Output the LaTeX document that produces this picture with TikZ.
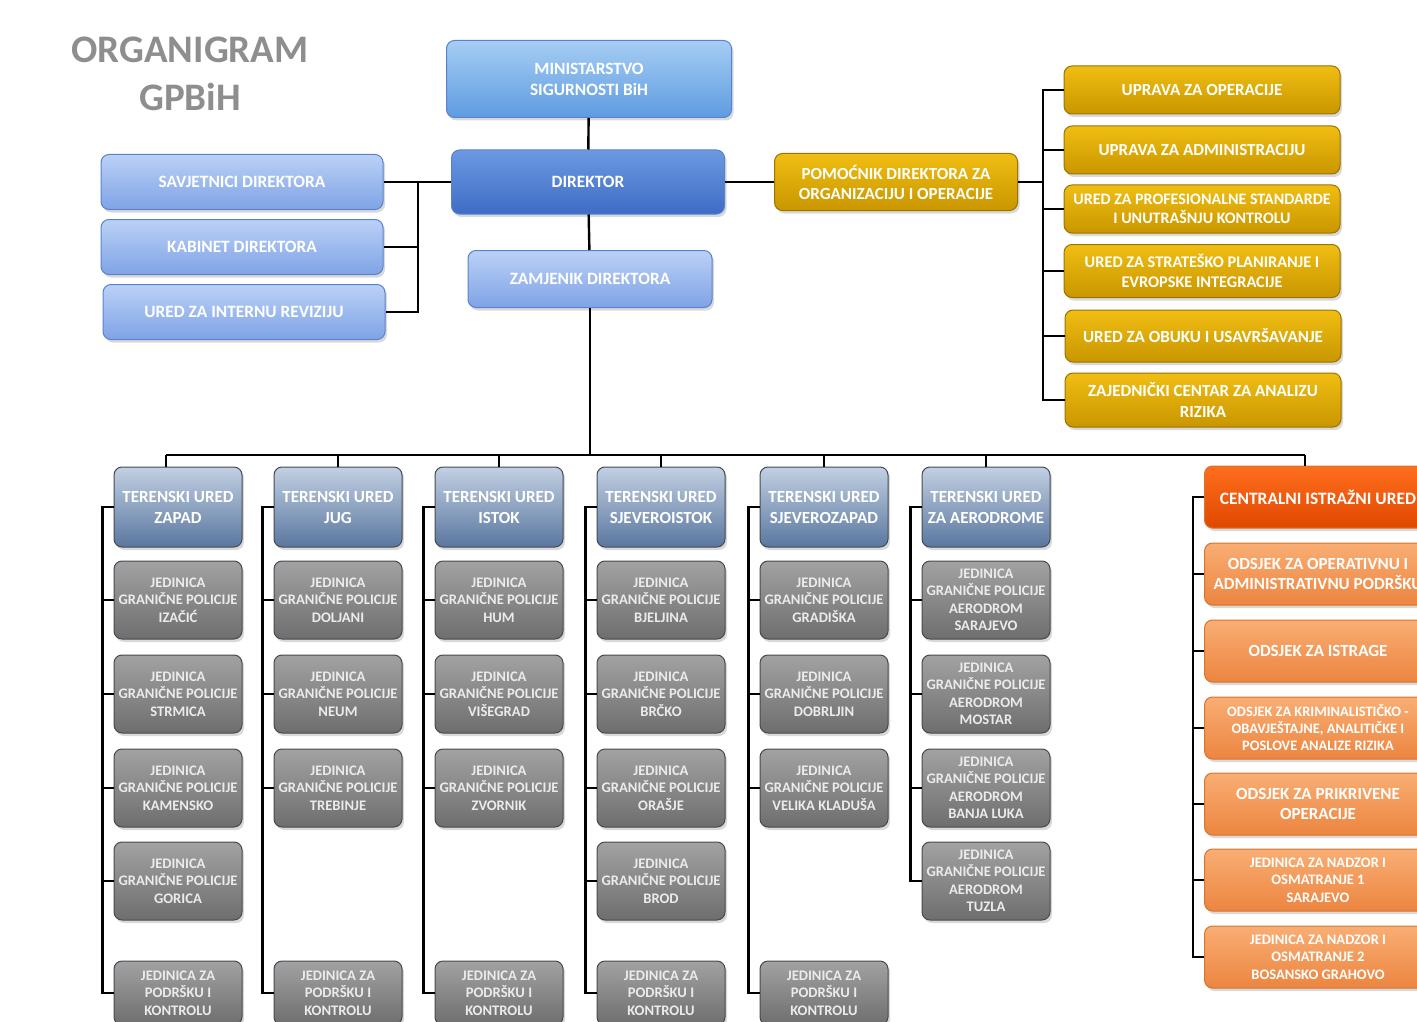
\documentclass[tikz,border=0pt]{standalone}
\usepackage{fontspec}
\setmainfont{Carlito}
\usetikzlibrary{positioning, shadows}
\definecolor{minTop}{HTML}{A6CDF4}
\definecolor{minBot}{HTML}{5E9CE0}
\definecolor{dirTop}{HTML}{6C99E2}
\definecolor{dirBot}{HTML}{3E6CC6}
\definecolor{ltTop}{HTML}{BBD1F6}
\definecolor{ltBot}{HTML}{7FA3E6}
\definecolor{blueLine}{HTML}{5A82CC}
\definecolor{goldTop}{HTML}{F0BE12}
\definecolor{goldBot}{HTML}{C99600}
\definecolor{goldLine}{HTML}{9A7400}
\definecolor{terTop}{HTML}{C2D0E3}
\definecolor{terBot}{HTML}{5A779F}
\definecolor{grayTop}{HTML}{A2A2A2}
\definecolor{grayBot}{HTML}{6E6E6E}
\definecolor{darkLine}{HTML}{454A52}
\definecolor{ciuTop}{HTML}{FF6E1E}
\definecolor{ciuBot}{HTML}{E04800}
\definecolor{orTop}{HTML}{F9AE74}
\definecolor{orBot}{HTML}{EC8540}
\definecolor{orLine}{HTML}{D7742F}
\definecolor{titleGray}{HTML}{8E8E8E}
\tikzset{
    %Define base style for boxes
    unit/.style={
           rectangle,
           rounded corners=8pt,
           line width=1pt,
           align=center,
           inner sep=2pt,
           text=white,
           drop shadow={shadow xshift=2pt, shadow yshift=-3pt, opacity=0.3}},
 %
    minbox/.style={unit, draw=blueLine, top color=minTop, bottom color=minBot,
           minimum width=285pt, minimum height=77pt,
           font=\fontsize{17.3}{21}\selectfont\bfseries},
 %
    dirbox/.style={unit, draw=blueLine, top color=dirTop, bottom color=dirBot,
           minimum width=273pt, minimum height=64pt,
           font=\fontsize{17.3}{21}\selectfont\bfseries},
 %
    ltbox/.style={unit, draw=blueLine, top color=ltTop, bottom color=ltBot,
           minimum width=282pt, minimum height=55pt,
           font=\fontsize{17.3}{21}\selectfont\bfseries},
 %
    goldbox/.style={unit, draw=goldLine, top color=goldTop, bottom color=goldBot,
           minimum width=276pt, minimum height=50pt,
           font=\fontsize{17}{20}\selectfont\bfseries},
 %
    terbox/.style={unit, draw=darkLine, top color=terTop, bottom color=terBot,
           minimum width=128pt, minimum height=80pt,
           font=\fontsize{17}{21}\selectfont\bfseries},
 %
    jgpbox/.style={unit, draw=darkLine, top color=grayTop, bottom color=grayBot,
           minimum width=128pt, minimum height=78pt, text=white!92!black,
           font=\fontsize{14.6}{17.5}\selectfont\bfseries},
 %
    ciubox/.style={unit, draw=orLine, top color=ciuTop, bottom color=ciuBot,
           minimum width=227pt, minimum height=62pt,
           font=\fontsize{17.4}{20}\selectfont\bfseries},
 %
    odsbox/.style={unit, draw=orLine, top color=orTop, bottom color=orBot,
           minimum width=227pt, minimum height=62pt,
           font=\fontsize{17}{20}\selectfont\bfseries},
 %
    title/.style={text=titleGray, font=\fontsize{39}{40}\selectfont\bfseries},
 %
    % Define connector style
    link/.style={
           draw=black,
           line width=2.4pt}
}
\begin{document}
\begin{tikzpicture}[x=1pt, y=-1pt]
  \useasboundingbox (0,0) rectangle (1417,1022);

  % title
  \node[title] (org) at (190,50) {ORGANIGRAM};
  \node[title] (gpbih) at (190,97) {GPBiH};

  % top management
  \node[minbox] (min) at (589,79) {MINISTARSTVO\\ SIGURNOSTI BiH};
  \node[dirbox] (dir) at (588,182) {DIREKTOR};
  \node[ltbox, minimum width=244pt, minimum height=57pt] (zam) at (590,279) {ZAMJENIK DIREKTORA};
  \node[ltbox] (savj) at (242,182) {SAVJETNICI DIREKTORA};
  \node[ltbox] (kab) at (242,247) {KABINET DIREKTORA};
  \node[ltbox] (rev) at (244,312) {URED ZA INTERNU REVIZIJU};

  % assistant director and his offices
  \node[goldbox, minimum width=243pt, minimum height=57pt] (pom) at (896,182) {POMOĆNIK DIREKTORA ZA\\ ORGANIZACIJU I OPERACIJE};
  \node[goldbox, minimum height=48pt] (uop) at (1202,90) {UPRAVA ZA OPERACIJE};
  \node[goldbox, minimum height=48pt] (uadm) at (1202,150) {UPRAVA ZA ADMINISTRACIJU};
  \node[goldbox, minimum height=48pt, font=\fontsize{16}{19.5}\selectfont\bfseries] (upro) at (1202,209) {URED ZA PROFESIONALNE STANDARDE\\ I UNUTRAŠNJU KONTROLU};
  \node[goldbox, minimum height=53pt, font=\fontsize{16.3}{20.5}\selectfont\bfseries] (ustr) at (1202,271) {URED ZA STRATEŠKO PLANIRANJE I\\ EVROPSKE INTEGRACIJE};
  \node[goldbox, minimum height=52pt] (uobu) at (1203,336) {URED ZA OBUKU I USAVRŠAVANJE};
  \node[goldbox, minimum height=54pt, font=\fontsize{17}{21}\selectfont\bfseries] (ucen) at (1203,400) {ZAJEDNIČKI CENTAR ZA ANALIZU\\ RIZIKA};

  % field offices
  \node[terbox] (tzap) at (178,507) {TERENSKI URED\\ ZAPAD};
  \node[terbox] (tjug) at (338,507) {TERENSKI URED\\ JUG};
  \node[terbox] (tist) at (499,507) {TERENSKI URED\\ ISTOK};
  \node[terbox] (tsi) at (661,507) {TERENSKI URED\\ SJEVEROISTOK};
  \node[terbox] (tsz) at (824,507) {TERENSKI URED\\ SJEVEROZAPAD};
  \node[terbox] (taer) at (986,507) {TERENSKI URED\\ ZA AERODROME};

  % border police units
  \node[jgpbox] (izacic) at (178,600) {JEDINICA\\ GRANIČNE POLICIJE\\ IZAČIĆ};
  \node[jgpbox] (strmica) at (178,694) {JEDINICA\\ GRANIČNE POLICIJE\\ STRMICA};
  \node[jgpbox] (kamensko) at (178,788) {JEDINICA\\ GRANIČNE POLICIJE\\ KAMENSKO};
  \node[jgpbox] (gorica) at (178,881) {JEDINICA\\ GRANIČNE POLICIJE\\ GORICA};
  \node[jgpbox, minimum height=64pt] (pkzap) at (178,993) {JEDINICA ZA\\ PODRŠKU I\\ KONTROLU};

  \node[jgpbox] (doljani) at (338,600) {JEDINICA\\ GRANIČNE POLICIJE\\ DOLJANI};
  \node[jgpbox] (neum) at (338,694) {JEDINICA\\ GRANIČNE POLICIJE\\ NEUM};
  \node[jgpbox] (trebinje) at (338,788) {JEDINICA\\ GRANIČNE POLICIJE\\ TREBINJE};
  \node[jgpbox, minimum height=64pt] (pkjug) at (338,993) {JEDINICA ZA\\ PODRŠKU I\\ KONTROLU};

  \node[jgpbox] (hum) at (499,600) {JEDINICA\\ GRANIČNE POLICIJE\\ HUM};
  \node[jgpbox] (visegrad) at (499,694) {JEDINICA\\ GRANIČNE POLICIJE\\ VIŠEGRAD};
  \node[jgpbox] (zvornik) at (499,788) {JEDINICA\\ GRANIČNE POLICIJE\\ ZVORNIK};
  \node[jgpbox, minimum height=64pt] (pkist) at (499,993) {JEDINICA ZA\\ PODRŠKU I\\ KONTROLU};

  \node[jgpbox] (bjeljina) at (661,600) {JEDINICA\\ GRANIČNE POLICIJE\\ BJELJINA};
  \node[jgpbox] (brcko) at (661,694) {JEDINICA\\ GRANIČNE POLICIJE\\ BRČKO};
  \node[jgpbox] (orasje) at (661,788) {JEDINICA\\ GRANIČNE POLICIJE\\ ORAŠJE};
  \node[jgpbox] (brod) at (661,881) {JEDINICA\\ GRANIČNE POLICIJE\\ BROD};
  \node[jgpbox, minimum height=64pt] (pksi) at (661,993) {JEDINICA ZA\\ PODRŠKU I\\ KONTROLU};

  \node[jgpbox] (gradiska) at (824,600) {JEDINICA\\ GRANIČNE POLICIJE\\ GRADIŠKA};
  \node[jgpbox] (dobrljin) at (824,694) {JEDINICA\\ GRANIČNE POLICIJE\\ DOBRLJIN};
  \node[jgpbox] (kladusa) at (824,788) {JEDINICA\\ GRANIČNE POLICIJE\\ VELIKA KLADUŠA};
  \node[jgpbox, minimum height=64pt] (pksz) at (824,993) {JEDINICA ZA\\ PODRŠKU I\\ KONTROLU};

  \node[jgpbox] (asar) at (986,600) {JEDINICA\\ GRANIČNE POLICIJE\\ AERODROM\\ SARAJEVO};
  \node[jgpbox] (amos) at (986,694) {JEDINICA\\ GRANIČNE POLICIJE\\ AERODROM\\ MOSTAR};
  \node[jgpbox] (abl) at (986,788) {JEDINICA\\ GRANIČNE POLICIJE\\ AERODROM\\ BANJA LUKA};
  \node[jgpbox] (atuz) at (986,881) {JEDINICA\\ GRANIČNE POLICIJE\\ AERODROM\\ TUZLA};

  % central investigation office
  \node[ciubox] (ciu) at (1318,497) {CENTRALNI ISTRAŽNI URED};
  \node[odsbox] (oop) at (1318,574) {ODSJEK ZA OPERATIVNU I\\ ADMINISTRATIVNU PODRŠKU};
  \node[odsbox] (oist) at (1318,651) {ODSJEK ZA ISTRAGE};
  \node[odsbox, font=\fontsize{14.4}{17}\selectfont\bfseries] (okri) at (1318,728) {ODSJEK ZA KRIMINALISTIČKO -\\ OBAVJEŠTAJNE, ANALITIČKE I\\ POSLOVE ANALIZE RIZIKA};
  \node[odsbox] (opri) at (1318,804) {ODSJEK ZA PRIKRIVENE\\ OPERACIJE};
  \node[odsbox, font=\fontsize{14.5}{17.5}\selectfont\bfseries] (ons1) at (1318,880) {JEDINICA ZA NADZOR I\\ OSMATRANJE 1\\ SARAJEVO};
  \node[odsbox, font=\fontsize{14.5}{17.5}\selectfont\bfseries] (ons2) at (1318,957) {JEDINICA ZA NADZOR I\\ OSMATRANJE 2\\ BOSANSKO GRAHOVO};

  % bus points
  \coordinate (lbus) at (418,182);
  \coordinate (gbus) at (1043,182);
  \coordinate (busL) at (166,455);
  \coordinate (busR) at (1305,455);

  % connectors of the top part
  \draw[link] (min) -- (dir);
  \draw[link] (dir) -- (zam);
  \draw[link] (dir.west) -- (savj.east);
  \draw[link] (lbus) |- (kab.east);
  \draw[link] (lbus) |- (rev.east);
  \draw[link] (dir.east) -- (pom.west);
  \draw[link] (pom.east) -- (gbus);
  \foreach \u in {uop, uadm, upro, ustr, uobu, ucen}
    \draw[link] (gbus) |- (\u.west);

  % main bus down to the field offices
  \draw[link] (zam.south) -- (zam.south |- busL);
  \draw[link] (busL) -- (busR);
  \draw[link] (busL) -- (busL |- tzap.north);
  \draw[link] (busR) -- (busR |- ciu.north);
  \foreach \t in {tjug, tist, tsi, tsz, taer}
    \draw[link] (\t.north |- busL) -- (\t.north);

  % units under each field office
  \foreach \t/\c in {tzap/izacic, tzap/strmica, tzap/kamensko, tzap/gorica, tzap/pkzap,
                     tjug/doljani, tjug/neum, tjug/trebinje, tjug/pkjug,
                     tist/hum, tist/visegrad, tist/zvornik, tist/pkist,
                     tsi/bjeljina, tsi/brcko, tsi/orasje, tsi/brod, tsi/pksi,
                     tsz/gradiska, tsz/dobrljin, tsz/kladusa, tsz/pksz,
                     taer/asar, taer/amos, taer/abl, taer/atuz,
                     ciu/oop, ciu/oist, ciu/okri, ciu/opri, ciu/ons1, ciu/ons2}
    \draw[link] (\t.west) -- ++(-11,0) |- (\c.west);
\end{tikzpicture}
\end{document}
